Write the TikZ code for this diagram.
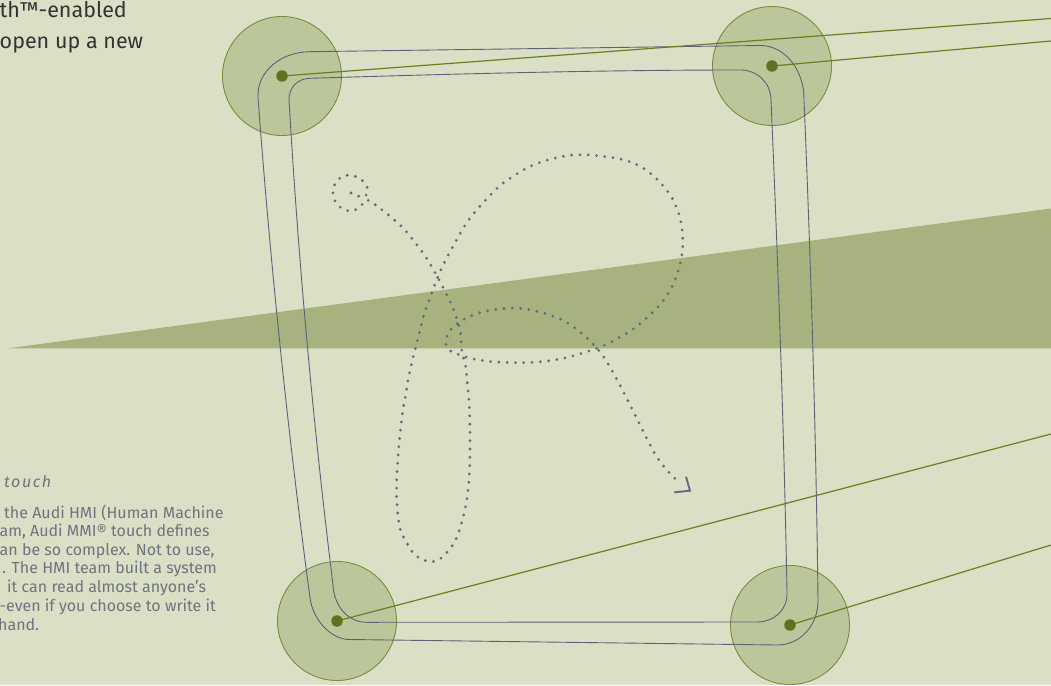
\documentclass[tikz,border=0pt]{standalone}
\usepackage{fontspec}
\setmainfont{Fira Sans}
\definecolor{bg}{HTML}{DADFC5}
\definecolor{band}{HTML}{A7B27E}
\definecolor{hubfill}{HTML}{BCC69B}
\definecolor{hubline}{HTML}{7D8C3C}
\definecolor{dotc}{HTML}{5E7222}
\definecolor{wire}{HTML}{6A7F22}
\definecolor{frame}{HTML}{5A6478}
\definecolor{gest}{HTML}{656C7C}
\definecolor{txtdark}{HTML}{333333}
\definecolor{txtgray}{HTML}{6E7480}
\begin{document}
\begin{tikzpicture}[x=1pt,y=-1pt,
  hub/.style={circle, draw=hubline, fill=hubfill, line width=0.9pt, minimum size=119pt, inner sep=0pt},
  hubdot/.style={circle, fill=dotc, minimum size=11.5pt, inner sep=0pt},
  wireline/.style={draw=wire, line width=1.2pt},
  frameline/.style={draw=frame, line width=0.9pt},
  gesture/.style={draw=gest, line width=3.1pt, line cap=round, dash pattern=on 0pt off 8.3pt},
  gesturehead/.style={draw=gest, line width=1.9pt},
  toptext/.style={inner sep=0pt, text=txtdark, font=\fontsize{21.5}{26}\selectfont},
  bodytext/.style={inner sep=0pt, text=txtgray, font=\fontsize{16}{19}\selectfont},
  headtext/.style={inner sep=0pt, text=txtgray, font=\fontsize{16}{19}\selectfont\itshape\addfontfeatures{LetterSpace=10}}]
\fill[bg] (0,0) rectangle (1051,685);
\useasboundingbox (0,0) rectangle (1051,685);
\clip (0,0) rectangle (1051,685);
% band
\fill[band] (8.3,348.3) -- (1051,208.5) -- (1051,348.3) -- cycle;
% texts
\node[toptext, anchor=base west] (t1) at (-0.5,17.3) {th™-enabled};
\node[toptext, anchor=base west] (t2) at (-0.5,48.3) {open up a new};
\node[headtext, anchor=base west] (h1) at (4,487.5) {touch};
\node[bodytext, anchor=base west] (b1) at (4,518.3) {the Audi HMI (Human Machine};
\node[bodytext, anchor=base west] (b2) at (-0.5,536.7) {am, Audi MMI® touch defines};
\node[bodytext, anchor=base west] (b3) at (-0.5,555) {an be so complex. Not to use,};
\node[bodytext, anchor=base west] (b4) at (2,573.3) {. The HMI team built a system};
\node[bodytext, anchor=base west] (b5) at (7,592.3) {it can read almost anyone’s};
\node[bodytext, anchor=base west] (b6) at (-0.5,611.7) {-even if you choose to write it};
\node[bodytext, anchor=base west] (b7) at (-2,630) {hand.};
% hubs
\node[hub] (tl) at (282,76) {};
\node[hub] (tr) at (772,66) {};
\node[hub] (bl) at (337,621) {};
\node[hub] (br) at (790,625) {};
% frames
\draw[frameline] (310,51.7) -- (760,45.5) .. controls (784.7,45.2) and (804.5,70) .. (804,100)
  .. controls (811,266.7) and (816,433.3) .. (818,600)
  .. controls (818.5,625) and (800,645.3) .. (777,645)
  -- (350,639.5)
  .. controls (331,639.8) and (313,620) .. (310,598)
  .. controls (287.7,431) and (270.3,264) .. (258,97)
  .. controls (257,72) and (280,52) .. (310,51.7);
\draw[frameline] (310,78.3) .. controls (450,74) and (600,70) .. (740,70)
  .. controls (757,69.7) and (771,83) .. (771,100)
  .. controls (778,264) and (784,429) .. (787,593)
  .. controls (787.5,610) and (774,622) .. (757,622)
  -- (367,622.3)
  .. controls (348,622.5) and (334,606) .. (333,585)
  .. controls (313,423) and (298.5,262) .. (289,100)
  .. controls (289,88) and (297,78.5) .. (310,78.3);
% gesture
\draw[gesture] plot[smooth, tension=0.55] coordinates {
 (351,193) (358,196) (365,196.5) (368,190) (364,182) (357,177) (349,175) (340,178) (334,186)
 (333,194) (336,203) (343,209) (352,211) (360,207) (366,200) (373,203.3) (380,208.3)
 (393.3,219) (405,230) (415.7,243.3) (425.7,256.7) (434.3,271.3) (442.3,286) (450,301.7)
 (456.7,318.3) (460.7,334.3) (461.7,350) (465.7,366.7) (467.3,383.3) (469,400) (469.7,416.7)
 (470,433.3) (470,450) (469.7,466.7) (468.7,483.3) (466.7,500) (463.3,516.7) (457.7,535)
 (452.7,545) (446,553.3) (438.3,560) (430,561.7) (422.3,559.3) (415,555) (409,546.7)
 (401.7,533.3) (399,523.3) (396.7,500) (396.7,478.3) (397.7,461.7) (399,445) (400.7,428.3)
 (402.7,411.7) (405.7,395) (408.3,378.7) (412,361.7) (416,346) (420,330) (424.3,313.3)
 (430,297.7) (435.7,282.3) (442.3,266.7) (450,251.7) (458.3,236.7) (466.7,222.7) (477.3,209.3)
 (488.7,196.7) (500.7,185) (514,175.7) (528.3,167.3) (544.3,161) (560,157) (573.3,155)
 (589.3,155) (605.3,156.7) (621.7,159.3) (637.7,165) (651.7,174.3) (663.3,186) (672.7,199.3)
 (679.3,215) (682.3,231.7) (682.7,248.3) (680,264.3) (675,280) (667.3,295) (656.7,308.3)
 (644.3,320) (631.7,330) (617.7,338.3) (602.7,346) (586.7,351.7) (570,356.7) (554,360)
 (537.7,362) (521,362.7) (504,362.3) (487.7,361.3) (470.7,358.3) (454,352.7) (447.7,348.3)
 (445.7,341.7) (448.3,333.3) (453.3,326.7) (460,321.7) (467.7,317.3) (475.7,314.3) (483.3,311.7)
 (499,309) (515,308) (531,310) (547.7,314.3) (563.3,320.3) (576.7,329.3) (590.7,341.7)
 (601.7,354) (610.7,368.3) (619,383.3) (626.7,398.3) (634.3,413.3) (641.7,428.3) (649.3,443.3)
 (657.7,458.3) (668.3,471.7) (680,483.3)};
\coordinate (ah1) at (686,476.7);
\coordinate (ah2) at (690,490.7);
\coordinate (ah3) at (674.3,492.3);
\draw[gesturehead] (ah1) -- (ah2) -- (ah3);
% wires
\coordinate (tle) at (1051,18.5);
\coordinate (tre) at (1051,41);
\coordinate (ble) at (1051,434);
\coordinate (bre) at (1051,545);
\draw[wireline] (tl.center) -- (tle);
\draw[wireline] (tr.center) -- (tre);
\draw[wireline] (bl.center) -- (ble);
\draw[wireline] (br.center) -- (bre);
% dots
\node[hubdot] (tld) at (tl.center) {};
\node[hubdot] (trd) at (tr.center) {};
\node[hubdot] (bld) at (bl.center) {};
\node[hubdot] (brd) at (br.center) {};
\end{tikzpicture}
\end{document}
